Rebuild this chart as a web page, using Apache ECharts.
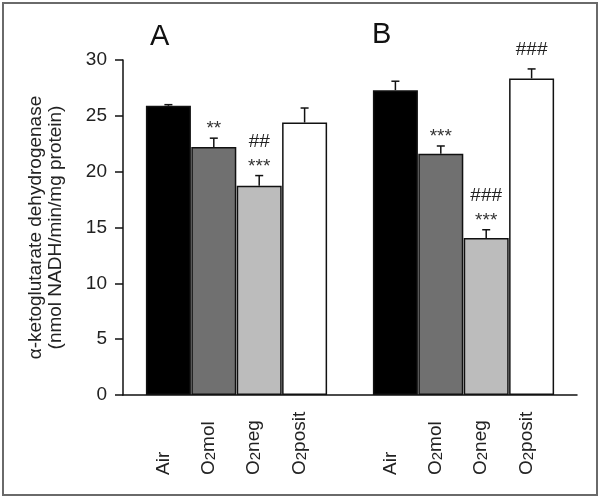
<!DOCTYPE html>
<html>
<head>
<meta charset="utf-8">
<script src="https://cdn.jsdelivr.net/npm/echarts@6/dist/echarts.min.js"></script>
<style>
html,body{margin:0;padding:0;background:#fff;}
#wrap{position:relative;width:600px;height:497px;}
#chart{width:600px;height:497px;}
#frame{position:absolute;left:2px;top:2px;width:592px;height:490px;border:2px solid #6a6a6a;pointer-events:none;}
</style>
</head>
<body>
<div id="wrap"><div id="chart"></div><div id="frame"></div></div>
<script>
// ---- data ----
var categories = ['Air', 'O2mol', 'O2neg', 'O2posit'];
var panels = ['A', 'B'];
var valuesA = [25.9, 22.2, 18.75, 24.4];
var errorsA = [0.1, 0.8, 0.9, 1.3];
var starsA = ['', '**', '***', ''];
var hashesA = ['', '', '##', ''];
var valuesB = [27.3, 21.6, 14.05, 28.35];
var errorsB = [0.8, 0.7, 0.75, 0.85];
var starsB = ['', '***', '***', ''];
var hashesB = ['', '', '###', '###'];
var yTicks = [0, 5, 10, 15, 20, 25, 30];

// ---- styles ----
var barColors = ['#000000', '#707070', '#bcbcbc', '#ffffff'];
var FONT = 'Liberation Sans, Arial, sans-serif';

// build slot positions: group A slots 1..4, gap, group B slots 6..9
var rows = [];
function addGroup(vals, errs, stars, hashes, offset) {
  for (var i = 0; i < categories.length; i++) {
    rows.push({pos: offset + i, cat: i, value: vals[i], err: errs[i], stars: stars[i], hashes: hashes[i]});
  }
}
addGroup(valuesA, errorsA, starsA, hashesA, 1);
addGroup(valuesB, errorsB, starsB, hashesB, 6);
var posToCat = {};
rows.forEach(function (r) { posToCat[r.pos] = r.cat; });

var labelMap = {
  'Air': '{n|Air}',
  'O2mol': '{n|O}{s|2}{n|mol}',
  'O2neg': '{n|O}{s|2}{n|neg}',
  'O2posit': '{n|O}{s|2}{n|posit}'
};

var chart = echarts.init(document.getElementById('chart'), null, {renderer: 'canvas'});
var option = {
  animation: false,
  backgroundColor: '#ffffff',
  title: [
    {text: panels[0], left: 145, top: 17, textStyle: {fontFamily: FONT, fontSize: 29, fontWeight: 'normal', color: '#111'}},
    {text: panels[1], left: 367, top: 15, textStyle: {fontFamily: FONT, fontSize: 29, fontWeight: 'normal', color: '#111'}}
  ],
  grid: {left: 123, right: 23, top: 60, bottom: 102, containLabel: false},
  xAxis: {
    type: 'value', min: 0, max: 10, interval: 1,
    axisLine: {show: true, lineStyle: {color: '#111', width: 1.5}},
    axisTick: {show: false},
    splitLine: {show: false},
    axisLabel: {
      show: true, rotate: 90, align: 'left', verticalAlign: 'middle', margin: 80,
      padding: [0, 0, 10, 0],
      showMinLabel: false, showMaxLabel: false,
      formatter: function (v) {
        if (posToCat[v] === undefined) return '';
        return labelMap[categories[posToCat[v]]];
      },
      rich: {
        n: {fontFamily: FONT, fontSize: 19, color: '#222'},
        s: {fontFamily: FONT, fontSize: 15, color: '#222', verticalAlign: 'bottom'}
      }
    }
  },
  yAxis: {
    type: 'value', min: 0, max: 30, interval: 5,
    name: 'α-ketoglutarate dehydrogenase\n(nmol NADH/min/mg protein)',
    nameLocation: 'middle', nameRotate: 90, nameGap: 57,
    nameTextStyle: {fontFamily: FONT, fontSize: 19, color: '#222', lineHeight: 20},
    axisLine: {show: true, lineStyle: {color: '#111', width: 1.5}},
    axisTick: {show: true, inside: false, length: 8, lineStyle: {color: '#111', width: 1.5}},
    splitLine: {show: false},
    axisLabel: {fontFamily: FONT, fontSize: 19, color: '#222', margin: 16,
      formatter: function (v) { return yTicks.indexOf(v) >= 0 ? String(v) : ''; }}
  },
  series: [
    {
      type: 'bar',
      barWidth: 45,
      data: rows.map(function (r) {
        return {value: [r.pos, r.value], itemStyle: {color: barColors[r.cat]}};
      }),
      itemStyle: {borderColor: '#111', borderWidth: 1.5},
      z: 2
    },
    {
      type: 'custom',
      z: 3,
      data: rows.map(function (r) { return [r.pos, r.value, r.err]; }),
      renderItem: function (params, api) {
        var r = rows[params.dataIndex];
        var top = api.coord([api.value(0), api.value(1)]);
        var cap = api.coord([api.value(0), api.value(1) + api.value(2)]);
        var x = top[0];
        var children = [
          {type: 'line', shape: {x1: x, y1: top[1], x2: x, y2: cap[1]}, style: {stroke: '#111', lineWidth: 1.5}},
          {type: 'line', shape: {x1: x - 4, y1: cap[1], x2: x + 4, y2: cap[1]}, style: {stroke: '#111', lineWidth: 1.5}}
        ];
        var starY = cap[1] - 13;
        if (r.stars) {
          children.push({type: 'text', style: {text: r.stars, x: x, y: starY + 4, align: 'center', verticalAlign: 'middle',
            font: '19px ' + FONT, fill: '#333'}});
        }
        if (r.hashes) {
          var hy = r.stars ? starY - 21 : cap[1] - 19;
          children.push({type: 'text', style: {text: r.hashes, x: x, y: hy, align: 'center', verticalAlign: 'middle',
            font: '19px ' + FONT, fill: '#222'}});
        }
        return {type: 'group', children: children};
      }
    }
  ]
};
chart.setOption(option);
</script>
</body>
</html>
